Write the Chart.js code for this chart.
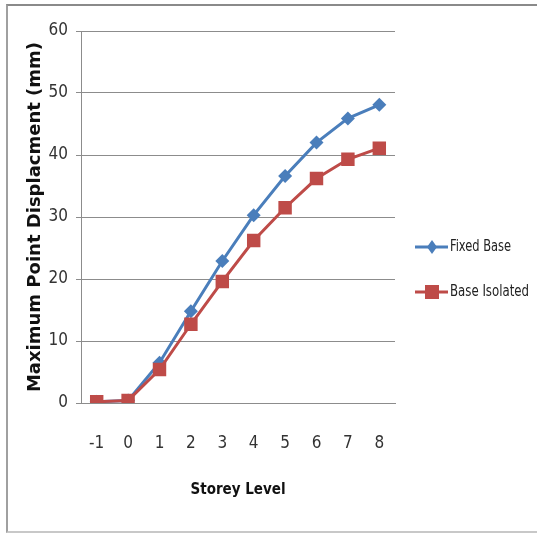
<!DOCTYPE html>
<html>
<head>
<meta charset="utf-8">
<script src="https://cdn.jsdelivr.net/npm/chart.js@4"></script>
<style>
  body { margin: 0; background: #fff; }
  #wrap { position: relative; width: 537px; height: 533px; overflow: hidden; }
  #frame {
    position: absolute; left: 6px; top: 4px; width: 600px; height: 525px;
    border-top: 2px solid #8a8a8a; border-left: 2px solid #a0a0a0; border-bottom: 2px solid #c8c8c8;
    pointer-events: none;
  }
  canvas { position: absolute; left: 0; top: 0; }
</style>
</head>
<body>
<div id="wrap">
  <canvas id="dispChart" width="537" height="533"></canvas>
  <div id="frame"></div>
</div>
<script>
// storey levels and displacement values (mm)
var storeyLabels = ['-1', '0', '1', '2', '3', '4', '5', '6', '7', '8'];
var fixedBase = [0.2, 0.4, 6.5, 14.8, 22.9, 30.3, 36.6, 42.0, 45.9, 48.1];
var baseIsolated = [0.2, 0.4, 5.4, 12.7, 19.6, 26.2, 31.5, 36.2, 39.3, 41.1];

var cBlue = '#4a7ebb';
var cRed = '#be4b48';
var cGrid = '#8c8c8c';
var narrow = '"DejaVu Sans Condensed", "Liberation Sans Narrow", sans-serif';

// excel style legend: short line with the marker on it
var sideLegend = {
    id: 'sideLegend',
    afterDraw: function (chart) {
        var ctx = chart.ctx;
        var items = [
            { text: 'Fixed Base', color: cBlue, shape: 'diamond', y: 247, w: 61 },
            { text: 'Base Isolated', color: cRed, shape: 'square', y: 292, w: 79 }
        ];
        ctx.save();
        items.forEach(function (it) {
            ctx.strokeStyle = it.color;
            ctx.fillStyle = it.color;
            ctx.lineWidth = 3;
            ctx.beginPath();
            ctx.moveTo(415, it.y);
            ctx.lineTo(448, it.y);
            ctx.stroke();
            ctx.beginPath();
            if (it.shape === 'diamond') {
                ctx.moveTo(432, it.y - 7);
                ctx.lineTo(437, it.y);
                ctx.lineTo(432, it.y + 7);
                ctx.lineTo(427, it.y);
                ctx.closePath();
            } else {
                ctx.rect(425, it.y - 7, 14, 14);
            }
            ctx.fill();
            ctx.fillStyle = '#222';
            ctx.font = '16px ' + narrow;
            ctx.textBaseline = 'middle';
            ctx.textAlign = 'left';
            ctx.fillText(it.text, 450, it.y, it.w);
        });
        ctx.restore();
    }
};

var ctx = document.getElementById('dispChart').getContext('2d');
var chartObj = new Chart(ctx, {
    type: 'line',
    data: {
        labels: storeyLabels,
        datasets: [
            {
                label: 'Fixed Base',
                data: fixedBase,
                borderColor: cBlue,
                backgroundColor: cBlue,
                borderWidth: 3,
                pointStyle: 'rectRot',
                pointRadius: 7,
                pointBorderWidth: 0,
                fill: false,
                order: 2
            },
            {
                label: 'Base Isolated',
                data: baseIsolated,
                borderColor: cRed,
                backgroundColor: cRed,
                borderWidth: 3,
                pointStyle: 'rect',
                pointRadius: 9.5,
                pointBorderWidth: 0,
                fill: false,
                order: 1
            }
        ]
    },
    options: {
        responsive: false,
        animation: false,
        layout: { padding: { top: 31, right: 142, bottom: 0, left: 0 } },
        plugins: {
            legend: { display: false },
            tooltip: { enabled: false }
        },
        scales: {
            x: {
                offset: true,
                grid: { display: false, drawTicks: false },
                border: { display: true, color: cGrid, width: 1 },
                ticks: { color: '#333', padding: 30, font: { size: 17, family: narrow } },
                title: {
                    display: true, text: 'Storey Level', color: '#111',
                    padding: { top: 0, bottom: 34 },
                    font: { size: 15, weight: 'bold', family: narrow }
                },
                afterFit: function (s) { s.height = 130; }
            },
            y: {
                min: 0,
                max: 60,
                ticks: { stepSize: 10, color: '#333', padding: 8, font: { size: 17, family: narrow } },
                grid: { color: cGrid, tickLength: 5, drawTicks: true },
                border: { display: true, color: cGrid, width: 1 },
                title: {
                    display: true, text: 'Maximum Point Displacment (mm)', color: '#111',
                    padding: { top: 25, bottom: 0 },
                    font: { size: 18, weight: 'bold', family: '"DejaVu Sans", Verdana, sans-serif' }
                },
                afterFit: function (s) { s.width = 81; }
            }
        }
    },
    plugins: [sideLegend]
});
</script>
</body>
</html>
